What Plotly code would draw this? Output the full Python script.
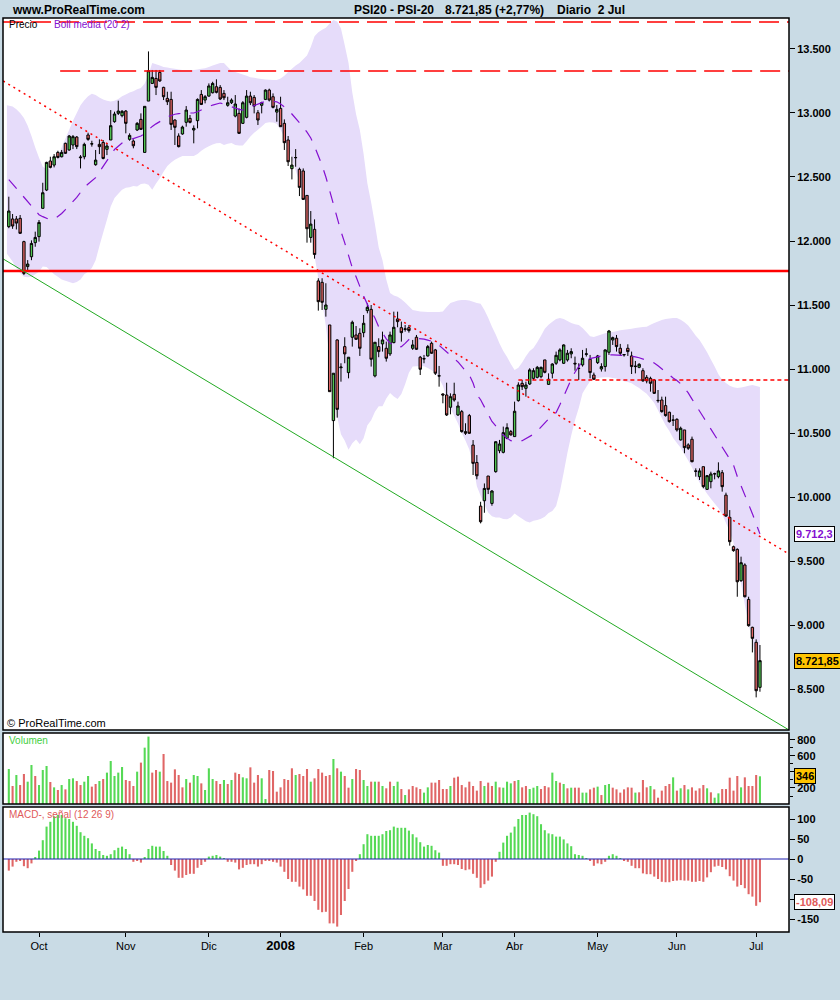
import numpy as np
import pandas as pd
import plotly.graph_objects as go

# ---------------- data ----------------
holidays = ["2007-12-25", "2007-12-26", "2008-01-01", "2008-03-21", "2008-03-24", "2008-05-01"]
dates = [d for d in pd.bdate_range("2007-09-19", "2008-07-02") if d.strftime("%Y-%m-%d") not in holidays]

opens = [12112,12172,12172,12177,11995,11800,11877,11987,12034,12255,
         12398,12625,12593,12692,12658,12763,12711,12750,12812,12650,
         12658,12828,12757,12596,12755,12770,12716,12789,12932,12997,
         12979,13015,12794,12781,12867,12950,12692,13093,13231,13270,
         13317,13200,13114,13106,12945,12820,12836,12927,12958,12867,
         12940,13145,13101,13132,13158,13205,13200,13153,13060,13080,
         12976,12997,12919,12966,13132,13122,13002,13060,13106,13179,
         13127,13007,13036,12919,12789,12565,12650,12560,12547,12356,
         12028,12091,11688,11677,11466,11344,10597,11227,11010,11175,
         10972,11248,11266,11279,11284,11456,11466,10946,11175,11196,
         11162,11118,11206,11391,11323,11310,11323,11162,11248,11092,
         11078,11102,11201,11149,10945,10805,10797,10701,10802,10641,
         10667,10511,10636,10406,10270,9929,9971,10164,9950,10198,
         10362,10349,10459,10511,10472,10753,10888,10849,10883,10927,
         10935,10940,11071,10880,10967,11045,11071,11045,11071,11118,
         11045,11006,11032,11115,11076,10953,11050,11000,11019,11131,
         11227,11240,11162,11110,11162,11102,11019,11013,10987,10935,
         10927,10914,10755,10758,10714,10662,10602,10607,10446,10524,
         10407,10451,10204,10159,10237,10060,10120,10180,10159,10190,
         10015,9841,9612,9591,9346,9469,9200,8982,8865,8513]
highs = [12346,12211,12195,12203,12002,11851,12005,12073,12164,12455,
         12619,12658,12679,12705,12711,12768,12828,12828,12820,12671,
         12768,12846,12783,12711,12794,12789,12763,13023,13010,13096,
         13023,13023,12841,12794,12929,12997,13052,13481,13336,13336,
         13336,13205,13166,13166,12950,12841,12901,13054,12984,12903,
         13114,13179,13140,13231,13244,13263,13218,13179,13127,13114,
         13140,13036,13093,13179,13166,13140,13023,13088,13184,13190,
         13153,13062,13127,12950,12820,12658,12718,12573,12567,12356,
         12234,12169,11709,11709,11670,11344,10967,11232,11045,11248,
         11092,11378,11336,11318,11422,11513,11500,11209,11240,11292,
         11214,11292,11448,11448,11370,11344,11344,11227,11266,11102,
         11110,11188,11214,11157,11024,10810,10893,10810,10893,10745,
         10680,10576,10649,10445,10328,9963,10106,10164,10054,10435,
         10446,10550,10576,10524,10745,10896,10914,10901,11006,11006,
         11024,11019,11071,10966,11045,11136,11162,11193,11149,11162,
         11097,11045,11149,11162,11110,10972,11110,11045,11154,11305,
         11253,11266,11196,11115,11193,11136,11063,11045,11006,10953,
         10940,10922,10836,10784,10784,10667,10641,10615,10550,10524,
         10420,10472,10224,10224,10237,10172,10198,10190,10271,10211,
         10034,9898,9620,9599,9534,9482,9221,8987,8888,8844]
lows = [12100,12095,12090,12055,11734,11760,11850,11955,11995,12255,
        12390,12567,12575,12645,12653,12680,12705,12718,12718,12567,
        12638,12783,12737,12588,12679,12638,12671,12789,12924,12984,
        12966,12841,12783,12724,12859,12867,12692,13093,13226,13140,
        13244,13101,13062,12867,12750,12731,12830,12893,12919,12763,
        12880,13062,13075,13127,13153,13153,13101,13101,13049,13070,
        12966,12836,12914,12958,13062,12997,12906,12997,13101,13090,
        13036,12932,12893,12711,12586,12481,12580,12351,12320,11987,
        11987,11862,11456,11461,11409,10823,10303,10620,10901,11045,
        10927,11175,11227,11102,11248,11435,11019,10935,11092,11136,
        11058,11102,11201,11326,11214,11292,11284,11149,11149,10953,
        11045,11097,11118,10953,10862,10732,10633,10646,10745,10633,
        10503,10485,10493,10172,10138,9794,9877,10023,9932,10190,
        10342,10341,10451,10480,10472,10745,10836,10784,10875,10914,
        10927,10927,10966,10875,10927,11032,11060,11039,11058,11084,
        10987,10914,11019,11097,10927,10914,11039,10980,10980,11110,
        11188,11136,11102,11097,11102,10961,10966,11006,10901,10888,
        10823,10805,10737,10659,10628,10581,10555,10511,10441,10342,
        10368,10271,10159,10133,10068,10055,10068,10138,10146,10042,
        9846,9620,9573,9221,9338,9216,8987,8786,8435,8479]
closes = [12234,12117,12140,12060,11747,11820,11981,12028,12145,12377,
          12614,12575,12658,12653,12692,12685,12820,12815,12737,12655,
          12755,12794,12760,12632,12737,12645,12742,12901,12992,13015,
          13013,12919,12825,12744,12919,12872,13052,13330,13278,13200,
          13250,13127,13088,12911,12888,12737,12890,13023,12927,12880,
          13106,13067,13127,13211,13231,13161,13109,13119,13080,13101,
          13070,12841,13080,13132,13080,13054,12945,13080,13179,13101,
          13044,13028,12893,12768,12619,12593,12652,12419,12325,12096,
          12132,11895,11526,11521,11500,10823,10967,10685,11015,11118,
          11092,11365,11232,11162,11357,11482,11076,11209,11136,11227,
          11084,11266,11326,11370,11284,11313,11300,11188,11154,10998,
          11081,11175,11123,10967,10947,10797,10641,10784,10758,10711,
          10511,10498,10498,10263,10166,9807,10067,10060,10047,10432,
          10414,10503,10542,10485,10670,10875,10862,10875,10993,10987,
          11013,11013,10974,10920,11039,11107,11149,11188,11123,11136,
          11040,11004,11084,11118,10972,10920,11102,11019,11149,11297,
          11245,11175,11123,11113,11136,11019,11022,11037,10907,10907,
          10888,10810,10753,10667,10636,10589,10600,10524,10537,10386,
          10381,10276,10201,10204,10081,10167,10180,10182,10204,10081,
          9851,9651,9581,9338,9487,9221,8995,8896,8486.8,8721.85]

volume = [437,225,362,237,375,279,487,350,237,425,
          475,275,208,175,237,183,312,321,287,237,
          279,350,217,250,287,312,392,537,350,392,
          462,300,287,225,404,517,704,842,392,425,
          404,625,287,267,433,362,208,312,267,362,
          350,258,175,446,312,287,250,300,250,300,
          392,375,333,321,458,267,362,321,62,425,
          412,154,208,312,300,446,362,375,350,437,
          279,321,437,392,350,362,562,446,404,350,
          204,312,437,425,300,225,279,279,279,225,
          196,279,225,279,187,112,183,225,208,187,
          142,208,267,267,300,187,187,225,329,342,
          237,208,279,225,167,287,225,267,225,279,
          208,204,279,258,287,300,208,225,187,204,
          225,187,225,208,392,287,267,250,196,204,
          204,204,142,142,183,204,217,112,237,250,
          204,183,142,183,208,204,142,146,300,208,
          225,183,79,167,225,250,333,167,196,237,
          183,208,167,196,237,196,146,79,133,187,
          187,329,167,350,208,333,225,225,362,346]
# g = close above previous close, r = below
vol_dir = ("grgrrggrgg" "grgrgrggrr" "ggrrgrgggg" "grrrgrggrr" "grrrrrrgrg"
           "grgggrrgrg" "rrggrrrggr" "rrrrrrgrrr" "grrrrrgrgr" "rgrrggrgrg"
           "rrggrgrrrr" "ggrrrrrgrr" "rrrrrrgrrg" "rgggrgrrgg" "grrrggrgrg"
           "rrggrrgrgg" "rrrrrrgrrr" "grrrrrgrgr" "grrrrgrggr" "rrrrgrrrrg")

macd_hist = [-29,-19,-7,-4,-18,-23,-11,3,21,47,
             81,93,107,110,110,102,100,93,83,67,
             58,52,39,25,20,10,8,12,22,28,
             31,25,12,-7,-4,-9,3,25,33,31,
             31,20,8,-15,-29,-47,-47,-40,-37,-37,
             -22,-15,-7,6,8,10,6,2,-7,-7,
             -9,-26,-22,-15,-13,-13,-19,-13,-4,-4,
             -7,-9,-19,-32,-50,-57,-57,-69,-76,-92,
             -92,-105,-127,-133,-132,-161,-161,-169,-140,-105,
             -75,-32,-4,12,37,62,58,58,58,62,
             70,72,81,78,78,78,71,62,54,42,
             31,35,33,22,16,-17,-17,-13,-13,-15,
             -25,-28,-26,-37,-47,-72,-63,-54,-44,-7,
             18,41,58,66,81,100,110,110,116,112,
             107,87,72,64,62,56,56,49,39,32,
             12,10,8,2,-4,-17,-11,-13,-7,8,
             12,8,2,-4,-7,-17,-23,-23,-36,-38,
             -38,-44,-50,-57,-58,-58,-55,-54,-53,-54,
             -54,-57,-57,-55,-57,-46,-33,-19,-17,-20,
             -26,-43,-54,-69,-65,-73,-88,-94,-117,-108.09]

boll_mid = [12480,12445,12410,12375,12340,12308,12270,12235,12205,12190,
            12178,12165,12170,12190,12215,12245,12275,12305,12340,12380,
            12420,12445,12470,12495,12540,12585,12630,12680,12715,12740,
            12765,12780,12790,12800,12805,12820,12840,12870,12895,12915,
            12930,12950,12970,12982,12990,12995,13000,13000,13000,13000,
            13010,13025,13037,13050,13062,13072,13078,13070,13060,13048,
            13035,13028,13023,13035,13048,13060,13070,13080,13092,13094,
            13092,13087,13070,13050,13025,12992,12960,12925,12891,12850,
            12805,12740,12670,12590,12500,12390,12280,12170,12075,11985,
            11880,11790,11720,11640,11570,11505,11450,11398,11330,11280,
            11235,11203,11180,11165,11175,11200,11230,11240,11238,11236,
            11234,11226,11218,11208,11185,11160,11130,11105,11080,11055,
            11020,10990,10953,10890,10800,10760,10700,10640,10590,10555,
            10520,10484,10460,10440,10432,10430,10440,10455,10470,10490,
            10515,10545,10580,10610,10630,10660,10720,10790,10860,10920,
            10975,11020,11065,11075,11080,11088,11095,11102,11108,11110,
            11110,11110,11109,11106,11104,11102,11095,11088,11078,11068,
            11058,11047,11025,11000,10975,10955,10930,10910,10885,10850,
            10813,10765,10715,10670,10625,10578,10531,10485,10437,10390,
            10344,10300,10250,10160,10090,10010,9940,9870,9790,9712.3]
boll_up = [13060,13050,13030,13000,12960,12900,12820,12730,12650,12580,
           12560,12560,12600,12660,12730,12800,12870,12940,13000,13060,
           13100,13130,13150,13140,13120,13105,13095,13090,13095,13110,
           13130,13145,13160,13170,13185,13195,13230,13300,13390,13380,
           13370,13360,13355,13350,13345,13340,13336,13336,13336,13336,
           13340,13345,13350,13360,13370,13380,13390,13390,13360,13330,
           13320,13310,13300,13290,13280,13275,13270,13265,13262,13260,
           13258,13258,13270,13290,13320,13345,13370,13390,13420,13450,
           13515,13600,13630,13650,13665,13700,13726,13715,13660,13530,
           13390,13160,12990,12867,12680,12450,12300,12130,11950,11850,
           11700,11594,11575,11565,11545,11520,11490,11461,11455,11450,
           11447,11445,11445,11445,11445,11450,11485,11515,11525,11535,
           11539,11540,11535,11525,11515,11510,11460,11400,11330,11270,
           11200,11140,11094,11040,10992,11010,11050,11100,11140,11165,
           11210,11260,11315,11345,11370,11390,11398,11390,11375,11360,
           11350,11344,11320,11290,11255,11250,11260,11270,11280,11285,
           11290,11295,11303,11307,11310,11315,11320,11325,11328,11330,
           11345,11360,11372,11383,11390,11395,11398,11398,11385,11365,
           11340,11300,11260,11227,11180,11130,11075,11020,10960,10914,
           10890,10870,10858,10852,10855,10862,10870,10875,10868,10859]

# horizontal levels and drawn trend lines (day index, value)
level_top = 13710
level_mid = 13328
level_support = 11765
level_short = 10914
level_mid_start = 13.6
level_short_start = 135
trend_red = {"x": [-1.5, 206.7], "y": [13250, 9555]}
trend_green = {"x": [-1.5, 206.7], "y": [11860, 8180]}

month_labels = ["Oct", "Nov", "Dic", "<span style='font-size:13px'><b>2008</b></span>",
                "Feb", "Mar", "Abr", "May", "Jun", "Jul"]

# ---------------- derived ----------------
x = np.arange(len(dates))
boll_low = 2 * np.array(boll_mid) - np.array(boll_up)
month_starts = [i for i in range(1, len(dates)) if dates[i].month != dates[i - 1].month]

BG = "#c9dbe5"
LAV = "#e6dcfa"
PURPLE = "#8410d0"
GREEN_C = "#52c552"
RED_C = "#e06666"
GREEN_V = "#55d955"
RED_V = "#e06666"

fig = go.Figure()

xmax = 206.7
xmin = -1.54

# Bollinger band as a filled region drawn beneath the candles
band_pts = [(xi - 0.5 if k == 0 else xi, u) for k, (xi, u) in enumerate(zip(x, boll_up))]
band_pts += [(xi, l) for xi, l in zip(x[::-1], boll_low[::-1])]
band_pts[-1] = (band_pts[-1][0] - 0.5, band_pts[-1][1])
band_path = "M " + " L ".join(f"{a},{b}" for a, b in band_pts) + " Z"
fig.add_shape(type="path", path=band_path, xref="x", yref="y", fillcolor=LAV,
              line=dict(width=0), layer="below")

# horizontal levels
fig.add_trace(go.Scatter(x=[xmin, xmax], y=[level_top] * 2, mode="lines",
                         line=dict(color="#ff0000", width=1.5, dash="20px,8px"), showlegend=False))
fig.add_trace(go.Scatter(x=[level_mid_start, xmax], y=[level_mid] * 2, mode="lines",
                         line=dict(color="#ff0000", width=1.5, dash="20px,8px"), showlegend=False))
fig.add_trace(go.Scatter(x=[xmin, xmax], y=[level_support] * 2, mode="lines",
                         line=dict(color="#ff0000", width=2.5), showlegend=False))
fig.add_trace(go.Scatter(x=[level_short_start, xmax], y=[level_short] * 2, mode="lines",
                         line=dict(color="#ff0000", width=1.5, dash="4px,3px"), showlegend=False))
fig.add_trace(go.Scatter(x=trend_red["x"], y=trend_red["y"], mode="lines",
                         line=dict(color="#ff0000", width=1.5, dash="2px,4px"), showlegend=False))
fig.add_trace(go.Scatter(x=trend_green["x"], y=trend_green["y"], mode="lines",
                         line=dict(color="#22aa22", width=1), showlegend=False))

# Bollinger middle
fig.add_trace(go.Scatter(x=x, y=boll_mid, mode="lines",
                         line=dict(color=PURPLE, width=1.2, dash="12px,10px"), showlegend=False))

# candles
fig.add_trace(go.Candlestick(
    x=x, open=opens, high=highs, low=lows, close=closes,
    increasing=dict(fillcolor=GREEN_C, line=dict(color="black", width=1)),
    decreasing=dict(fillcolor=RED_C, line=dict(color="black", width=1)),
    whiskerwidth=0, showlegend=False, xaxis="x", yaxis="y"))

# volume
fig.add_trace(go.Bar(x=x, y=volume, width=0.55,
                     marker=dict(color=[GREEN_V if c == "g" else RED_V for c in vol_dir], line=dict(width=0)),
                     xaxis="x", yaxis="y2", showlegend=False))

# MACD histogram
fig.add_trace(go.Bar(x=x, y=macd_hist, width=0.55,
                     marker=dict(color=[GREEN_V if v >= 0 else RED_V for v in macd_hist], line=dict(width=0)),
                     xaxis="x", yaxis="y3", showlegend=False))
fig.add_trace(go.Scatter(x=[xmin, xmax], y=[0, 0], mode="lines", line=dict(color="#2020b0", width=1.2),
                         xaxis="x", yaxis="y3", showlegend=False))

# ---------------- layout ----------------
W, H = 840, 1000
ml, mr, mt, mb = 3, 51, 18, 68
ph = H - mt - mb
pw = W - ml - mr


def py(p):
    return (H - mb - p) / ph


def px(p):
    return (p - ml) / pw


dom_main = [py(730), 1]
dom_vol = [py(804), py(733)]
dom_macd = [0, py(807)]

tick_font = dict(family="Liberation Sans", size=11, color="black", weight="bold")

fig.update_layout(
    width=W, height=H, margin=dict(l=ml, r=mr, t=mt, b=mb),
    paper_bgcolor=BG, plot_bgcolor="white", separators=",.",
    boxgap=0.1, barmode="overlay", showlegend=False, hovermode=False,
    xaxis=dict(range=[xmin, xmax], anchor="y3", tickmode="array", tickvals=month_starts,
               ticktext=month_labels, ticks="outside", ticklen=4, tickcolor="black",
               tickfont=dict(family="Liberation Sans", size=11, color="black"),
               showgrid=False, zeroline=False, showline=False, rangeslider=dict(visible=False)),
    yaxis=dict(domain=dom_main, range=[8180, 13742], side="right", anchor="x",
               tickmode="array", tickvals=list(range(8500, 14000, 500)),
               ticktext=[f"{v:,}".replace(",", ".") for v in range(8500, 14000, 500)],
               ticks="outside", ticklen=5, tickcolor="black", tickfont=tick_font,
               showgrid=False, zeroline=False, showline=False),
    yaxis2=dict(domain=dom_vol, range=[0, 887], side="right", anchor="x",
                tickmode="array", tickvals=[200, 400, 600, 800], ticktext=["200", "", "600", "800"],
                ticks="outside", ticklen=5, tickcolor="black", tickfont=tick_font,
                minor=dict(tickmode="array", tickvals=[100, 300, 500, 700], ticks="outside",
                           ticklen=3, tickcolor="black"),
                showgrid=False, zeroline=False, showline=False),
    yaxis3=dict(domain=dom_macd, range=[-182.5, 130], side="right", anchor="x",
                tickmode="array", tickvals=[-150, -100, -50, 0, 50, 100],
                ticktext=["-150", "", "-50", "0", "50", "100"],
                ticks="outside", ticklen=5, tickcolor="black", tickfont=tick_font,
                showgrid=False, zeroline=False, showline=False),
)

# panel frames
for d in (dom_main, dom_vol, dom_macd):
    fig.add_shape(type="rect", xref="paper", yref="paper", x0=0, x1=1, y0=d[0], y1=d[1],
                  line=dict(color="black", width=1.5), fillcolor="rgba(0,0,0,0)", layer="above")

ann = []
hdr = dict(family="Liberation Sans", size=12, color="black", weight="bold")
ann.append(dict(text="www.ProRealTime.com", x=px(10), y=py(10), font=hdr))
ann.append(dict(text="PSI20 - PSI-20", x=px(352), y=py(10), font=hdr))
ann.append(dict(text="8.721,85 (+2,77%)", x=px(443), y=py(10), font=hdr))
ann.append(dict(text="Diario  2 Jul", x=px(555), y=py(10), font=hdr))
small = dict(family="Liberation Sans", size=10)
ann.append(dict(text="Precio", x=px(7), y=py(25), font=dict(small, color="black")))
ann.append(dict(text="Boll media (20 2)", x=px(52), y=py(25), font=dict(small, color=PURPLE)))
ann.append(dict(text="© ProRealTime.com", x=px(5), y=py(723),
                font=dict(family="Liberation Sans", size=11, color="black")))
ann.append(dict(text="Volumen", x=px(7), y=py(740), font=dict(small, color="#3fcf3f")))
ann.append(dict(text="MACD-, señal (12 26 9)", x=px(7), y=py(814), font=dict(small, color="#e05a5a")))
for a in ann:
    a.update(xref="paper", yref="paper", xanchor="left", yanchor="middle", showarrow=False)
    fig.add_annotation(**a)


def eu(v, nd):
    s = f"{v:,.{nd}f}"
    return s.replace(",", "X").replace(".", ",").replace("X", ".")


badge_font = dict(family="Liberation Sans", size=11, weight="bold")
badges = [
    (eu(boll_mid[-1], 1), "y", boll_mid[-1], "white", PURPLE),
    (eu(closes[-1], 2), "y", closes[-1], "#ffc400", "black"),
    (str(volume[-1]), "y2", volume[-1], "#ffc400", "black"),
    (eu(macd_hist[-1], 2), "y3", macd_hist[-1], "white", "#e05a5a"),
]
for txt, yr, yv, bg, fc in badges:
    fig.add_annotation(text=txt, xref="paper", x=1, xanchor="left", xshift=5, yref=yr, y=yv,
                       yanchor="middle", showarrow=False, bgcolor=bg, bordercolor="black",
                       borderwidth=1, borderpad=1, font=dict(badge_font, color=fc))

fig.write_html("out.html", config={"displayModeBar": False},
               post_script="document.body.style.margin='0px';")
